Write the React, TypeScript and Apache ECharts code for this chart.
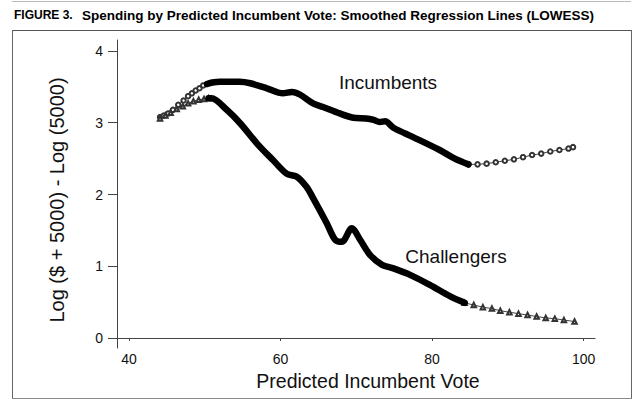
import { useEffect, useRef } from "react";
import * as echarts from "echarts";

const xTicks = [40, 60, 80, 100];
const yTicks = [0, 1, 2, 3, 4];

// Incumbents LOWESS curve: dense (thick) middle part
const incumbentsThick: [number, number][] = [
  [50.3, 3.54], [51, 3.56], [52, 3.57], [54.6, 3.57], [56, 3.55], [58.2, 3.48], [60.3, 3.41],
  [61.5, 3.43], [62.6, 3.39], [64.3, 3.27], [65.6, 3.22], [67.8, 3.13], [69.6, 3.07],
  [71.3, 3.06], [72.3, 3.04], [73.1, 3.01], [73.8, 3.02], [74.9, 2.93], [77.5, 2.8],
  [81, 2.62], [83, 2.5], [84.8, 2.42],
];
// Incumbents observations at the sparse ends (circles)
const incumbentsLeft: [number, number][] = [
  [44.1, 3.08], [44.6, 3.1], [45.2, 3.13], [45.8, 3.18], [46.5, 3.25], [47.2, 3.31],
  [47.8, 3.37], [48.3, 3.41], [48.8, 3.45], [49.3, 3.48], [49.8, 3.52], [50.3, 3.54],
];
const incumbentsRight: [number, number][] = [
  [84.8, 2.42], [86, 2.42], [87.2, 2.43], [88.4, 2.45], [89.6, 2.47], [90.8, 2.49],
  [92, 2.52], [93.2, 2.55], [94.4, 2.57], [95.6, 2.6], [96.8, 2.62], [98, 2.64], [98.6, 2.66],
];

// Challengers LOWESS curve
const challengersThick: [number, number][] = [
  [50.5, 3.34], [50.9, 3.34], [52.9, 3.18], [54.7, 2.99], [56.9, 2.71], [59, 2.48],
  [60.8, 2.29], [62.1, 2.25], [63.4, 2.11], [64.3, 1.95], [66.1, 1.6], [67.2, 1.37],
  [68.1, 1.34], [69.4, 1.53], [70.5, 1.37], [71.8, 1.16], [73.4, 1.02], [74.9, 0.97],
  [77.1, 0.88], [79.7, 0.74], [82.4, 0.58], [84.3, 0.49],
];
const challengersLeft: [number, number][] = [
  [44.1, 3.06], [44.8, 3.1], [45.5, 3.14], [46.3, 3.19], [47.1, 3.23], [47.8, 3.27],
  [48.5, 3.3], [49.2, 3.32], [49.9, 3.33], [50.5, 3.34],
];
const challengersRight: [number, number][] = [
  [84.3, 0.49], [85.5, 0.46], [86.7, 0.43], [87.9, 0.41], [89, 0.38], [90.2, 0.36],
  [91.4, 0.34], [92.6, 0.32], [93.8, 0.3], [95, 0.28], [96.2, 0.27], [97.4, 0.25], [98.8, 0.23],
];

const FONT = '"Liberation Sans", Arial, Helvetica, sans-serif';

export default function App() {
  const ref = useRef<HTMLDivElement>(null);
  useEffect(() => {
    if (!ref.current) return;
    const chart = echarts.init(ref.current, null, { renderer: "svg" });
    const thick = (data: [number, number][]) => ({
      type: "line",
      data,
      showSymbol: false,
      symbol: "none",
      smooth: 0.3,
      lineStyle: { color: "#000", width: 6.5, cap: "round", join: "round" },
      z: 3,
    });
    const thin = (data: [number, number][], symbol: string) => ({
      type: "line",
      data,
      symbol,
      symbolSize: 4.5,
      showSymbol: true,
      showAllSymbol: true,
      lineStyle: { color: "#444", width: 1 },
      itemStyle: { color: "#333", borderColor: "#333", borderWidth: 1 },
      z: 2,
    });
    const line = (x1: number, y1: number, x2: number, y2: number, stroke: string) => ({
      type: "line",
      shape: { x1, y1, x2, y2 },
      style: { stroke, lineWidth: 1 },
      silent: true,
    });
    chart.setOption({
      animation: false,
      backgroundColor: "#fff",
      textStyle: { fontFamily: FONT },
      grid: { left: 117, right: 43, top: 40, bottom: 53 },
      xAxis: {
        type: "value",
        min: 38.42,
        max: 101.5,
        axisLine: { show: true, lineStyle: { color: "#444", width: 1 } },
        axisTick: { show: true, length: 3, customValues: xTicks, lineStyle: { color: "#444" } },
        axisLabel: { customValues: xTicks, margin: 4, fontSize: 14, color: "#111", fontFamily: FONT },
        splitLine: { show: false },
      },
      yAxis: {
        type: "value",
        min: -0.139,
        max: 4.153,
        axisLine: { show: true, lineStyle: { color: "#444", width: 1 } },
        axisTick: { show: true, length: 9, customValues: yTicks, lineStyle: { color: "#444" } },
        axisLabel: { customValues: yTicks, margin: 14, fontSize: 14, color: "#111", fontFamily: FONT },
        splitLine: { show: false },
      },
      series: [
        thin(incumbentsLeft, "emptyCircle"),
        thin(incumbentsRight, "emptyCircle"),
        thick(incumbentsThick),
        thin(challengersLeft, "emptyTriangle"),
        thin(challengersRight, "emptyTriangle"),
        thick(challengersThick),
      ],
      graphic: [
        line(12, 1.5, 631, 1.5, "#bbb"),
        line(12, 30.5, 631, 30.5, "#555"),
        line(12.5, 30, 12.5, 398, "#666"),
        line(631.5, 30, 631.5, 398, "#666"),
        line(12, 398.5, 632, 398.5, "#888"),
        {
          type: "text",
          x: 14,
          y: 15,
          style: { text: "FIGURE 3.", font: `bold 12px ${FONT}`, fill: "#000", textVerticalAlign: "middle" },
        },
        {
          type: "text",
          x: 82,
          y: 15,
          style: {
            text: "Spending by Predicted Incumbent Vote: Smoothed Regression Lines (LOWESS)",
            font: `bold 13.5px ${FONT}`,
            fill: "#000",
            textVerticalAlign: "middle",
          },
        },
        {
          type: "text",
          x: 57,
          y: 200,
          rotation: Math.PI / 2,
          style: {
            text: "Log ($ + 5000) - Log (5000)",
            font: `20px ${FONT}`,
            fill: "#111",
            textAlign: "center",
            textVerticalAlign: "middle",
          },
        },
        {
          type: "text",
          x: 368,
          y: 381,
          style: {
            text: "Predicted Incumbent Vote",
            font: `19.5px ${FONT}`,
            fill: "#111",
            textAlign: "center",
            textVerticalAlign: "middle",
          },
        },
        {
          type: "text",
          x: 388,
          y: 82,
          style: { text: "Incumbents", font: `19px ${FONT}`, fill: "#111", textAlign: "center", textVerticalAlign: "middle" },
        },
        {
          type: "text",
          x: 456,
          y: 256,
          style: { text: "Challengers", font: `19px ${FONT}`, fill: "#111", textAlign: "center", textVerticalAlign: "middle" },
        },
      ],
    });
    return () => chart.dispose();
  }, []);
  return <div ref={ref} style={{ position: "absolute", left: 0, top: 0, width: 638, height: 401 }} />;
}
